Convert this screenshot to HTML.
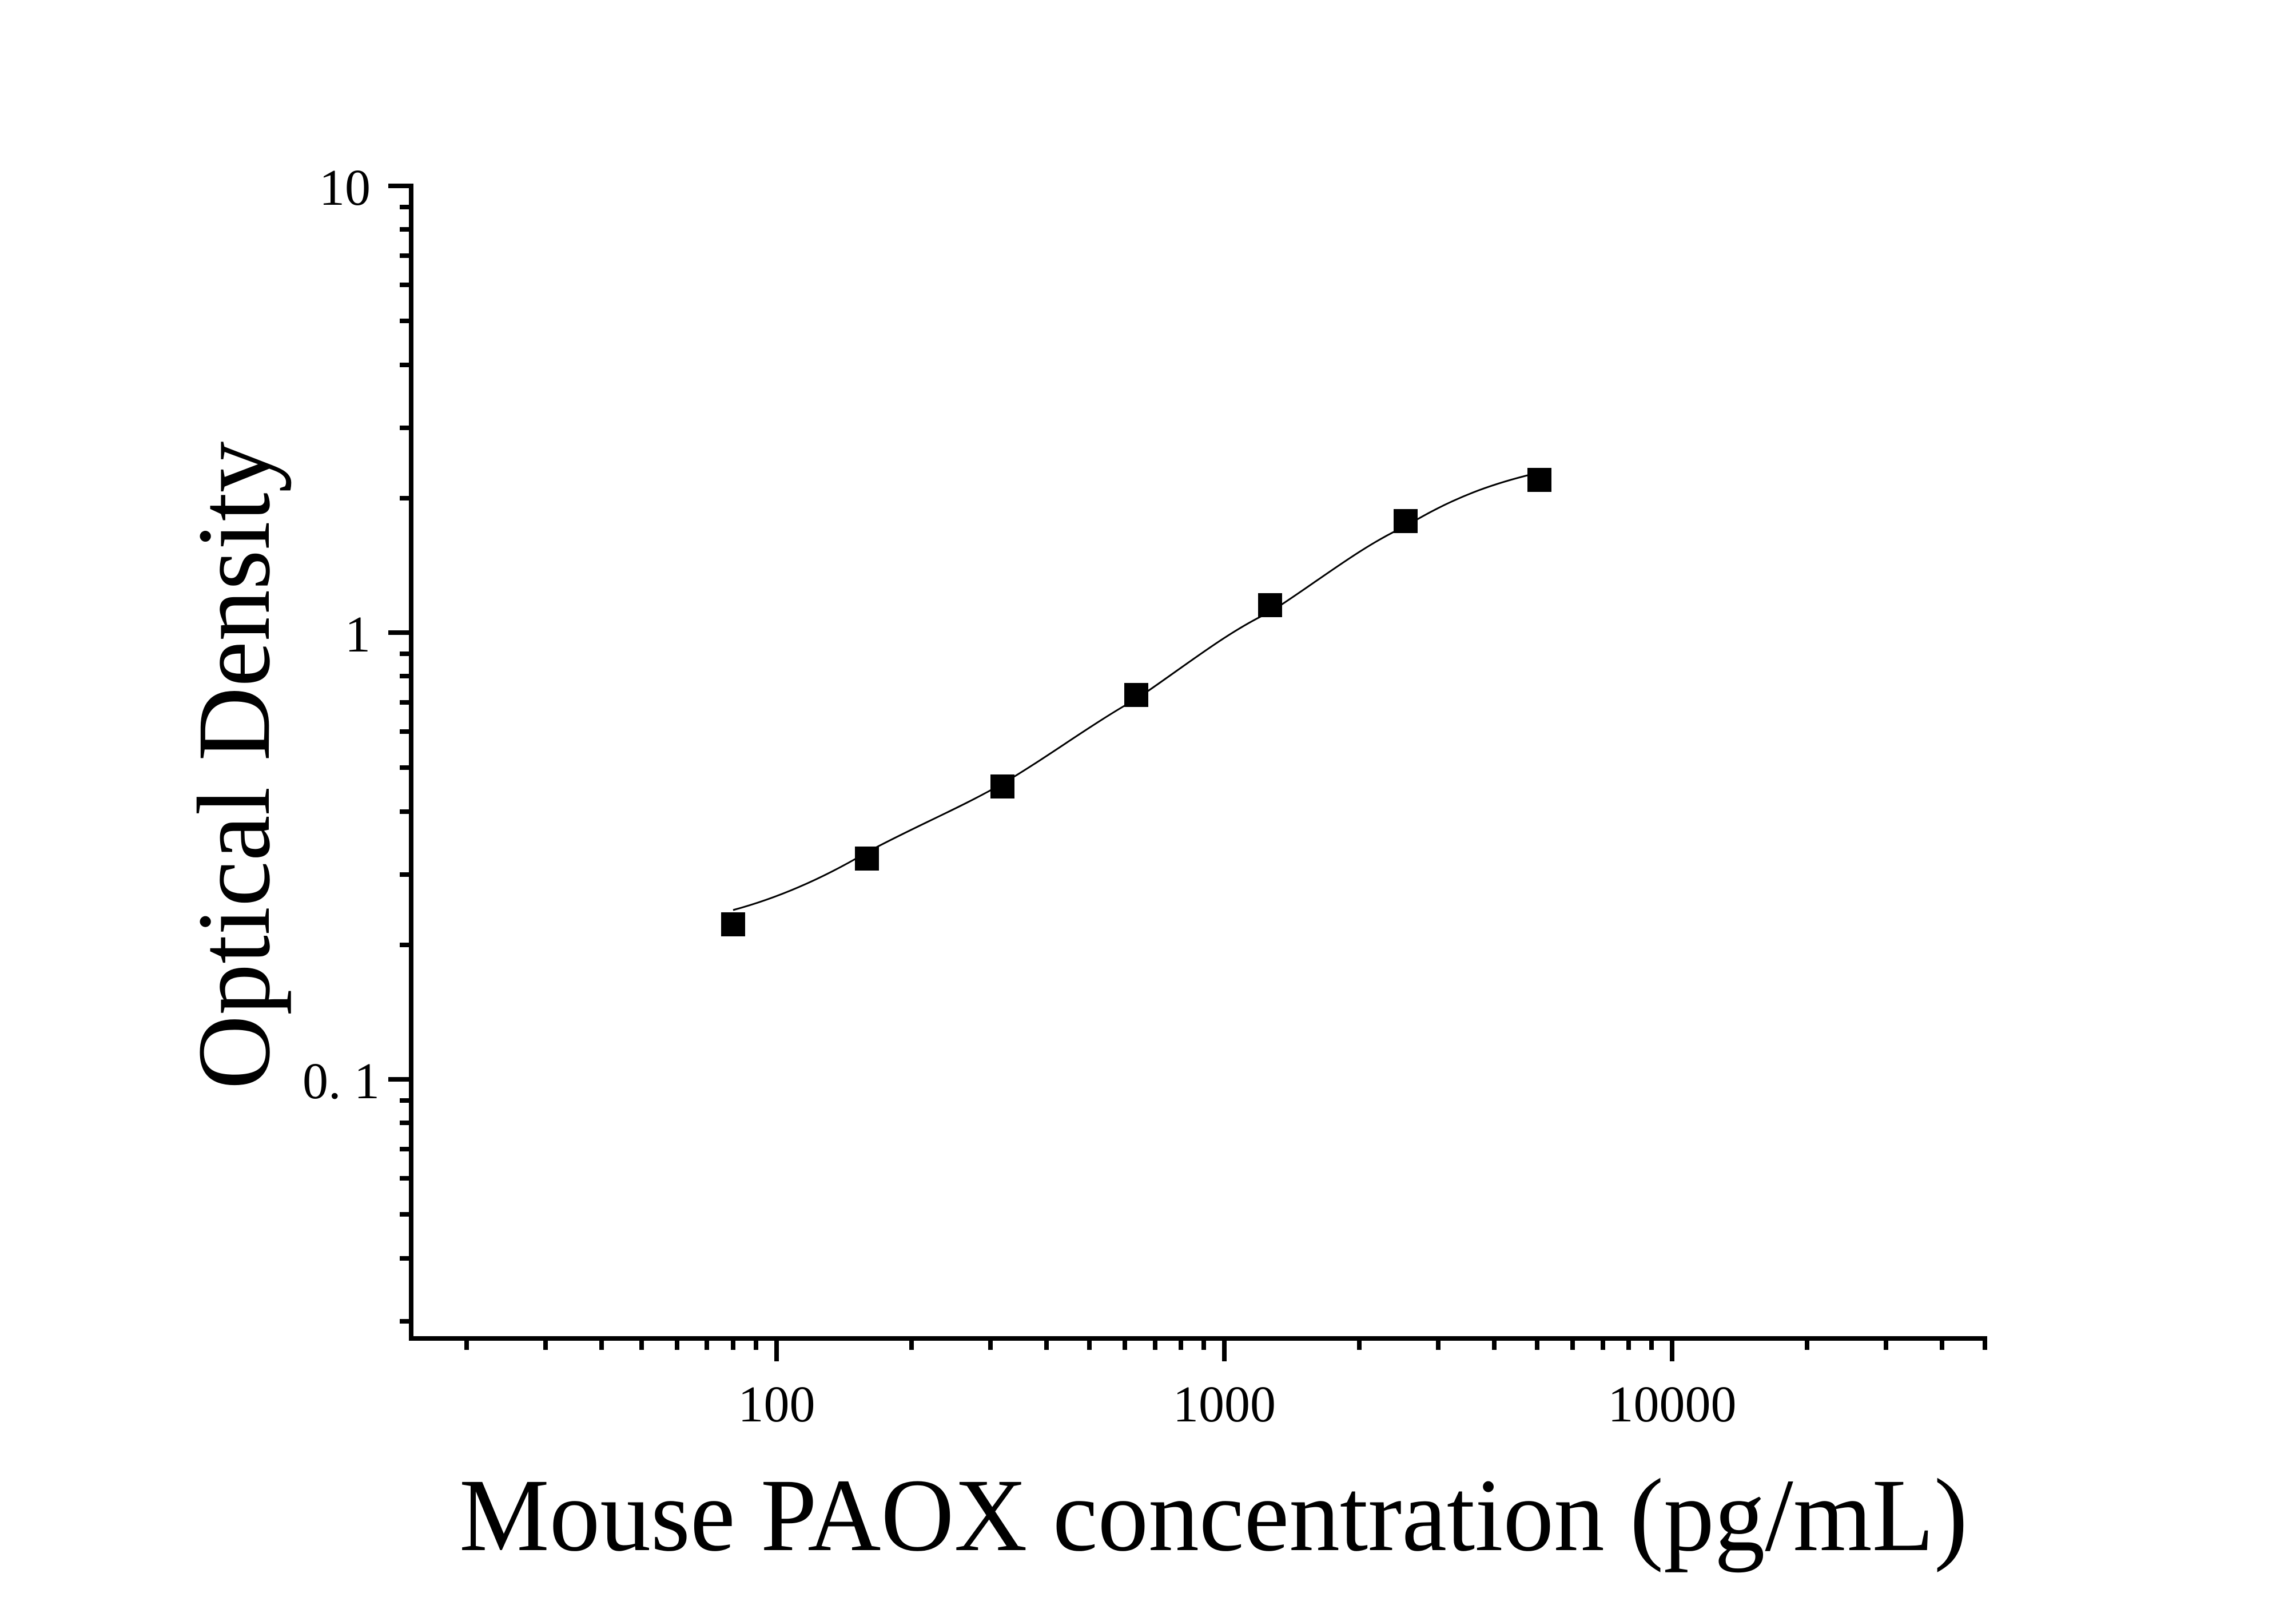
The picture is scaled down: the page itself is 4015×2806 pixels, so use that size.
<!DOCTYPE html>
<html><head><meta charset="utf-8"><style>html,body{margin:0;padding:0;background:#fff}svg{display:block}</style></head>
<body>
<svg width="4015" height="2806" viewBox="0 0 4015 2806" xmlns="http://www.w3.org/2000/svg" font-family="'Liberation Serif', serif">
<rect width="4015" height="2806" fill="#fff"/>
<g stroke="#000" stroke-width="8" fill="none">
<line x1="719" y1="321" x2="719" y2="2344"/>
<line x1="715" y1="2340" x2="3475" y2="2340"/>
<line x1="679" y1="325" x2="719" y2="325"/>
<line x1="679" y1="1106" x2="719" y2="1106"/>
<line x1="679" y1="1887" x2="719" y2="1887"/>
<line x1="699" y1="362" x2="719" y2="362"/>
<line x1="699" y1="401" x2="719" y2="401"/>
<line x1="699" y1="447" x2="719" y2="447"/>
<line x1="699" y1="498" x2="719" y2="498"/>
<line x1="699" y1="561" x2="719" y2="561"/>
<line x1="699" y1="638" x2="719" y2="638"/>
<line x1="699" y1="748" x2="719" y2="748"/>
<line x1="699" y1="871" x2="719" y2="871"/>
<line x1="699" y1="1143" x2="719" y2="1143"/>
<line x1="699" y1="1182" x2="719" y2="1182"/>
<line x1="699" y1="1228" x2="719" y2="1228"/>
<line x1="699" y1="1279" x2="719" y2="1279"/>
<line x1="699" y1="1342" x2="719" y2="1342"/>
<line x1="699" y1="1419" x2="719" y2="1419"/>
<line x1="699" y1="1529" x2="719" y2="1529"/>
<line x1="699" y1="1652" x2="719" y2="1652"/>
<line x1="699" y1="1924" x2="719" y2="1924"/>
<line x1="699" y1="1963" x2="719" y2="1963"/>
<line x1="699" y1="2009" x2="719" y2="2009"/>
<line x1="699" y1="2060" x2="719" y2="2060"/>
<line x1="699" y1="2123" x2="719" y2="2123"/>
<line x1="699" y1="2200" x2="719" y2="2200"/>
<line x1="699" y1="2310" x2="719" y2="2310"/>
<line x1="1358" y1="2340" x2="1358" y2="2380"/>
<line x1="2141" y1="2340" x2="2141" y2="2380"/>
<line x1="2924" y1="2340" x2="2924" y2="2380"/>
<line x1="816" y1="2340" x2="816" y2="2360"/>
<line x1="954" y1="2340" x2="954" y2="2360"/>
<line x1="1052" y1="2340" x2="1052" y2="2360"/>
<line x1="1122" y1="2340" x2="1122" y2="2360"/>
<line x1="1184" y1="2340" x2="1184" y2="2360"/>
<line x1="1236" y1="2340" x2="1236" y2="2360"/>
<line x1="1282" y1="2340" x2="1282" y2="2360"/>
<line x1="1322" y1="2340" x2="1322" y2="2360"/>
<line x1="1594" y1="2340" x2="1594" y2="2360"/>
<line x1="1732" y1="2340" x2="1732" y2="2360"/>
<line x1="1830" y1="2340" x2="1830" y2="2360"/>
<line x1="1905" y1="2340" x2="1905" y2="2360"/>
<line x1="1967" y1="2340" x2="1967" y2="2360"/>
<line x1="2020" y1="2340" x2="2020" y2="2360"/>
<line x1="2065" y1="2340" x2="2065" y2="2360"/>
<line x1="2105" y1="2340" x2="2105" y2="2360"/>
<line x1="2377" y1="2340" x2="2377" y2="2360"/>
<line x1="2515" y1="2340" x2="2515" y2="2360"/>
<line x1="2613" y1="2340" x2="2613" y2="2360"/>
<line x1="2688" y1="2340" x2="2688" y2="2360"/>
<line x1="2750" y1="2340" x2="2750" y2="2360"/>
<line x1="2803" y1="2340" x2="2803" y2="2360"/>
<line x1="2848" y1="2340" x2="2848" y2="2360"/>
<line x1="2888" y1="2340" x2="2888" y2="2360"/>
<line x1="3160" y1="2340" x2="3160" y2="2360"/>
<line x1="3298" y1="2340" x2="3298" y2="2360"/>
<line x1="3396" y1="2340" x2="3396" y2="2360"/>
<line x1="3471" y1="2340" x2="3471" y2="2360"/>
</g>
<g font-size="90" fill="#000">
<text x="648" y="358" text-anchor="end">10</text>
<text x="648" y="1139" text-anchor="end">1</text>
<text x="664" y="1920" text-anchor="end">0. 1</text>
<text x="1358" y="2485" text-anchor="middle">100</text>
<text x="2141" y="2485" text-anchor="middle">1000</text>
<text x="2924" y="2485" text-anchor="middle">10000</text>
</g>
<text transform="translate(470,1338) rotate(-90)" font-size="182" text-anchor="middle" textLength="1133" lengthAdjust="spacingAndGlyphs">Optical Density</text>
<text x="2122" y="2710" font-size="182" text-anchor="middle" textLength="2638" lengthAdjust="spacingAndGlyphs">Mouse PAOX concentration (pg/mL)</text>
<path d="M1282,1591 C1360,1570 1440,1535 1516,1490 C1600,1445 1680,1412 1753,1370 C1830,1325 1910,1265 1987,1222 C2065,1170 2145,1105 2221,1070 C2300,1020 2380,955 2458,920 C2540,870 2610,845 2692,826" stroke="#000" stroke-width="3" fill="none"/>
<g fill="#000">
<rect x="1261" y="1595" width="42" height="42"/>
<rect x="1495" y="1480" width="42" height="42"/>
<rect x="1732" y="1354" width="42" height="42"/>
<rect x="1966" y="1194" width="42" height="42"/>
<rect x="2200" y="1037" width="42" height="42"/>
<rect x="2437" y="890" width="42" height="42"/>
<rect x="2671" y="818" width="42" height="42"/>
</g>
</svg>
</body></html>
